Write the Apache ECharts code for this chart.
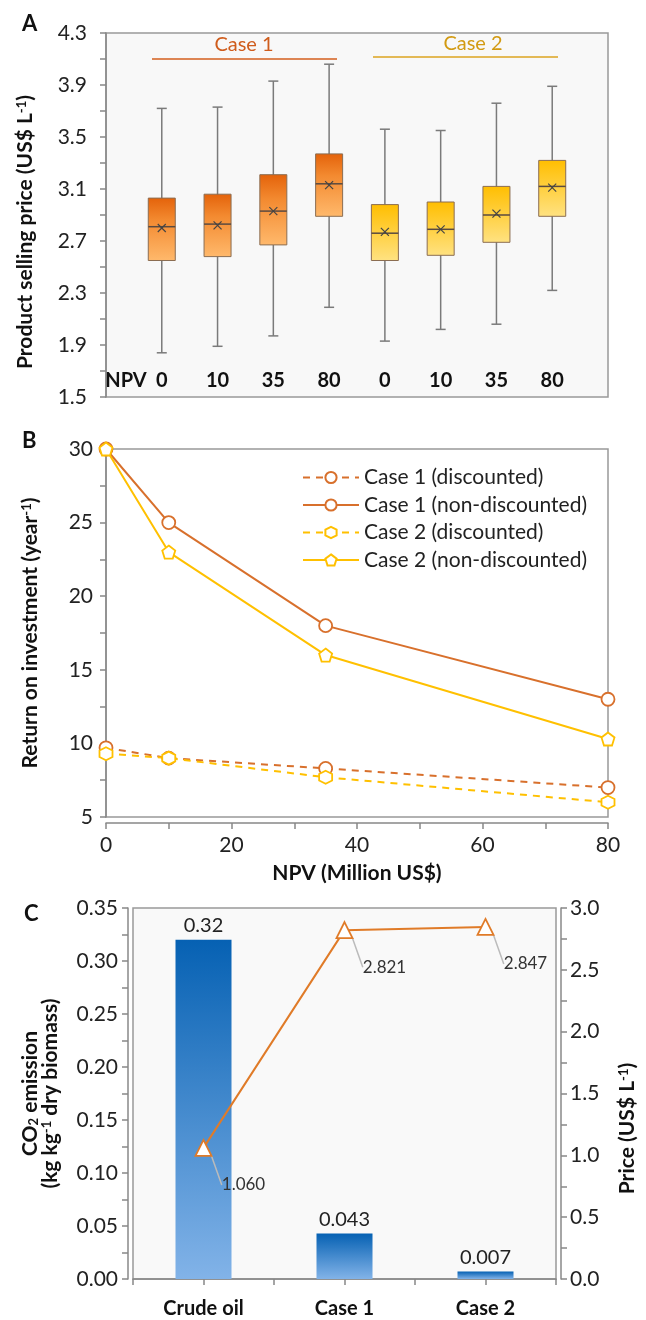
<!DOCTYPE html>
<html>
<head>
<meta charset="utf-8">
<script src="https://cdn.jsdelivr.net/npm/echarts@6/dist/echarts.min.js"></script>
<style>
  html, body { margin: 0; padding: 0; background: #fff; }
  #chart { width: 646px; height: 1320px; }
</style>
</head>
<body>
<div id="chart"></div>
<script>
// ---- A: product selling price box plots
var npvLabels = ['0', '10', '35', '80'];
var case1Min = [1.84, 1.89, 1.97, 2.19];
var case1Q1 = [2.55, 2.58, 2.67, 2.89];
var case1Median = [2.81, 2.83, 2.93, 3.14];
var case1Q3 = [3.03, 3.06, 3.21, 3.37];
var case1Max = [3.72, 3.73, 3.93, 4.06];
var case1Mean = [2.80, 2.82, 2.93, 3.13];

var case2Min = [1.93, 2.02, 2.06, 2.32];
var case2Q1 = [2.55, 2.59, 2.69, 2.89];
var case2Median = [2.76, 2.79, 2.90, 3.12];
var case2Q3 = [2.98, 3.00, 3.12, 3.32];
var case2Max = [3.56, 3.55, 3.76, 3.89];
var case2Mean = [2.77, 2.79, 2.91, 3.11];

// ---- B: return on investment
var npvValues = [0, 10, 35, 80];
var roiCase1Disc = [9.7, 9.0, 8.3, 7.0];
var roiCase1NonDisc = [30, 25, 18, 13];
var roiCase2Disc = [9.3, 9.0, 7.7, 6.0];
var roiCase2NonDisc = [30, 23, 16, 10.3];

// ---- C: CO2 emission and price
var co2Categories = ['Crude oil', 'Case 1', 'Case 2'];
var co2Emission = [0.32, 0.043, 0.007];
var fuelPrice = [1.060, 2.821, 2.847];

var FONT = 'Lato';
var orange = '#D8702C';
var gold = '#FFC000';
var axisGray = '#888';

function boxData(offset, mins, q1, med, q3, maxs, means) {
  return mins.map(function (v, i) {
    return [offset + i, v, q1[i], med[i], q3[i], maxs[i], means[i]];
  });
}

function pairs(ys) {
  return npvValues.map(function (x, i) { return [x, ys[i]]; });
}

var case1Stops = [
  { offset: 0, color: '#E4620A' },
  { offset: 0.35, color: '#F38A30' },
  { offset: 1, color: '#FFB96C' }
];
var case2Stops = [
  { offset: 0, color: '#FFBE00' },
  { offset: 1, color: '#FFE282' }
];

// box + whiskers + median + mean cross, placed with the axes' own scales
function renderBox(stops) {
  return function (params, api) {
    var x = api.value(0);
    var pMin = api.coord([x, api.value(1)]);
    var pQ1 = api.coord([x, api.value(2)]);
    var pMed = api.coord([x, api.value(3)]);
    var pQ3 = api.coord([x, api.value(4)]);
    var pMax = api.coord([x, api.value(5)]);
    var pMean = api.coord([x, api.value(6)]);
    var cx = pMed[0];
    var hw = 13.5, cap = 5, m = 4;
    var wStyle = { stroke: '#7a7a7a', lineWidth: 1.5 };
    return {
      type: 'group',
      children: [
        { type: 'line', shape: { x1: cx, y1: pMax[1], x2: cx, y2: pMin[1] }, style: wStyle },
        { type: 'line', shape: { x1: cx - cap, y1: pMax[1], x2: cx + cap, y2: pMax[1] }, style: wStyle },
        { type: 'line', shape: { x1: cx - cap, y1: pMin[1], x2: cx + cap, y2: pMin[1] }, style: wStyle },
        {
          type: 'rect',
          shape: { x: cx - hw, y: pQ3[1], width: hw * 2, height: pQ1[1] - pQ3[1] },
          style: {
            fill: new echarts.graphic.LinearGradient(0, 0, 0, 1, stops),
            stroke: '#8b6d52', lineWidth: 1
          }
        },
        { type: 'line', shape: { x1: cx - hw, y1: pMed[1], x2: cx + hw, y2: pMed[1] }, style: { stroke: '#5a4a40', lineWidth: 1.5 } },
        { type: 'line', shape: { x1: cx - m, y1: pMean[1] - m, x2: cx + m, y2: pMean[1] + m }, style: { stroke: '#444', lineWidth: 1.2 } },
        { type: 'line', shape: { x1: cx - m, y1: pMean[1] + m, x2: cx + m, y2: pMean[1] - m }, style: { stroke: '#444', lineWidth: 1.2 } }
      ]
    };
  };
}

var pentagon = 'path://M0,-10 L9.51,-3.09 L5.88,8.09 L-5.88,8.09 L-9.51,-3.09 Z';
var hexagon = 'path://M0,-10 L8.66,-5 L8.66,5 L0,10 L-8.66,5 L-8.66,-5 Z';

function roiSeries(name, data, color, dashed, symbol) {
  return {
    name: name,
    type: 'line',
    xAxisIndex: 1,
    yAxisIndex: 1,
    data: pairs(data),
    symbol: symbol,
    symbolSize: 13,
    lineStyle: { color: color, width: 2, type: dashed ? [7, 6] : 'solid' },
    itemStyle: { color: '#fff', borderColor: color, borderWidth: 1.8 },
    z: dashed ? 2 : 3
  };
}

var chart = echarts.init(document.getElementById('chart'), null, { renderer: 'canvas' });

var tickLabel = { fontSize: 21, color: '#222', fontFamily: FONT };
var axisTitle = { fontSize: 21, fontWeight: 'bold', color: '#111', fontFamily: FONT };
var supStyle = { fontSize: 13, fontWeight: 'bold', verticalAlign: 'top', color: '#111', fontFamily: FONT };
var subStyle = { fontSize: 13, fontWeight: 'bold', verticalAlign: 'bottom', color: '#111', fontFamily: FONT };

var option = {
  animation: false,
  textStyle: { fontFamily: FONT },
  grid: [
    { left: 106, top: 33, width: 502, height: 364, show: true, backgroundColor: '#f8f8f8', borderColor: '#999', borderWidth: 1.5 },
    { left: 106, top: 449, width: 502, height: 368, show: true, backgroundColor: '#fff', borderColor: '#999', borderWidth: 1.5 },
    { left: 133, top: 908, width: 430, height: 371, show: true, backgroundColor: '#f9f9f9', borderColor: '#999', borderWidth: 1.5 }
  ],
  legend: {
    data: ['Case 1 (discounted)', 'Case 1 (non-discounted)', 'Case 2 (discounted)', 'Case 2 (non-discounted)'],
    orient: 'vertical',
    left: 297,
    top: 462,
    itemWidth: 56,
    itemHeight: 14,
    itemGap: 6.5,
    textStyle: { fontSize: 21, color: '#222', fontFamily: FONT }
  },
  xAxis: [
    {
      gridIndex: 0, type: 'value', min: 0, max: 9, interval: 1,
      axisLine: { show: false }, axisTick: { show: false }, splitLine: { show: false },
      axisLabel: {
        inside: true, margin: 6, fontSize: 20, fontWeight: 'bold', color: '#111', fontFamily: FONT,
        formatter: function (v) {
          if (v === 0) return '{n|NPV}';
          return v < 9 ? npvLabels[(v - 1) % 4] : '';
        },
        rich: { n: { padding: [0, 0, 0, 40], fontSize: 20, fontWeight: 'bold', color: '#111', fontFamily: FONT } }
      }
    },
    {
      gridIndex: 1, type: 'value', min: 0, max: 80, interval: 20, offset: 6,
      name: 'NPV (Million US$)', nameLocation: 'middle', nameGap: 40, nameTextStyle: axisTitle,
      axisLine: { show: true, lineStyle: { color: axisGray, width: 1.5 } },
      axisTick: { show: true, length: 6, lineStyle: { color: axisGray, width: 1.5 } },
      minorTick: { show: true, splitNumber: 2, length: 6, lineStyle: { color: axisGray, width: 1.5 } },
      splitLine: { show: false },
      axisLabel: Object.assign({ margin: 12 }, tickLabel)
    },
    {
      gridIndex: 2, type: 'category', data: co2Categories, offset: 4,
      axisLine: { show: true, lineStyle: { color: axisGray, width: 1.5 } },
      axisTick: { show: true, length: 6, lineStyle: { color: axisGray, width: 1.5 } },
      axisLabel: { margin: 16, fontSize: 20, fontWeight: 'bold', color: '#111', fontFamily: FONT }
    },
    {
      gridIndex: 2, type: 'category', data: co2Categories, offset: 4, position: 'bottom',
      axisLine: { show: false },
      axisTick: { show: true, alignWithLabel: true, length: 6, lineStyle: { color: axisGray, width: 1.5 } },
      axisLabel: { show: false }
    }
  ],
  yAxis: [
    {
      gridIndex: 0, type: 'value', min: 1.5, max: 4.3, interval: 0.4, offset: 12,
      name: 'Product selling price (US$ L{sup|-1})', nameLocation: 'middle', nameGap: 58, nameRotate: 90,
      nameTextStyle: Object.assign({ padding: [0, 34, 0, 0], rich: { sup: supStyle } }, axisTitle),
      axisLine: { show: true, lineStyle: { color: axisGray, width: 1.5 } },
      axisTick: { show: true, length: 6, lineStyle: { color: axisGray, width: 1.5 } },
      minorTick: { show: true, splitNumber: 2, length: 6, lineStyle: { color: axisGray, width: 1.5 } },
      splitLine: { show: false },
      axisLabel: Object.assign({ margin: 7, formatter: function (v) { return v.toFixed(1); } }, tickLabel)
    },
    {
      gridIndex: 1, type: 'value', min: 5, max: 30, interval: 5, offset: 3,
      name: 'Return on investment (year{sup|-1})', nameLocation: 'middle', nameGap: 62, nameRotate: 90,
      nameTextStyle: Object.assign({ rich: { sup: supStyle } }, axisTitle),
      axisLine: { show: true, lineStyle: { color: axisGray, width: 1.5 } },
      axisTick: { show: true, length: 6, lineStyle: { color: axisGray, width: 1.5 } },
      minorTick: { show: true, splitNumber: 2, length: 6, lineStyle: { color: axisGray, width: 1.5 } },
      splitLine: { show: false },
      axisLabel: Object.assign({ margin: 10 }, tickLabel)
    },
    {
      gridIndex: 2, type: 'value', min: 0, max: 0.35, interval: 0.05, offset: 5,
      name: 'CO{sub|2} emission\n(kg kg{sup|-1} dry biomass)', nameLocation: 'middle', nameGap: 68, nameRotate: 90,
      nameTextStyle: Object.assign({ lineHeight: 20, rich: { sup: supStyle, sub: subStyle } }, axisTitle),
      axisLine: { show: true, lineStyle: { color: axisGray, width: 1.5 } },
      axisTick: { show: true, length: 6, lineStyle: { color: axisGray, width: 1.5 } },
      minorTick: { show: true, splitNumber: 2, length: 6, lineStyle: { color: axisGray, width: 1.5 } },
      splitLine: { show: false },
      axisLabel: Object.assign({ margin: 10, formatter: function (v) { return v.toFixed(2); } }, tickLabel)
    },
    {
      gridIndex: 2, type: 'value', position: 'right', min: 0, max: 3, interval: 0.5, offset: 5,
      name: 'Price (US$ L{sup|-1})', nameLocation: 'middle', nameGap: 56, nameRotate: 90,
      nameTextStyle: Object.assign({ padding: [0, 70, 0, 0], rich: { sup: supStyle } }, axisTitle),
      axisLine: { show: true, lineStyle: { color: axisGray, width: 1.5 } },
      axisTick: { show: true, length: 6, lineStyle: { color: axisGray, width: 1.5 } },
      minorTick: { show: true, splitNumber: 2, length: 6, lineStyle: { color: axisGray, width: 1.5 } },
      splitLine: { show: false },
      axisLabel: Object.assign({ margin: 9, formatter: function (v) { return v.toFixed(1); } }, tickLabel)
    }
  ],
  graphic: [
    { type: 'text', left: 22, top: 13, style: { text: 'A', fontSize: 22, fontWeight: 'bold', fill: '#111', fontFamily: FONT } },
    { type: 'text', left: 22, top: 430, style: { text: 'B', fontSize: 22, fontWeight: 'bold', fill: '#111', fontFamily: FONT } },
    { type: 'text', left: 24, top: 903, style: { text: 'C', fontSize: 22, fontWeight: 'bold', fill: '#111', fontFamily: FONT } },
    { type: 'line', shape: { x1: 152, y1: 59, x2: 337, y2: 59 }, style: { stroke: '#D45F1E', lineWidth: 1.5 } },
    { type: 'text', x: 244, y: 45, style: { text: 'Case 1', fontSize: 20, fill: '#CF5C1C', fontFamily: FONT, align: 'center', verticalAlign: 'middle' } },
    { type: 'line', shape: { x1: 373, y1: 57, x2: 558, y2: 57 }, style: { stroke: '#DDA521', lineWidth: 1.5 } },
    { type: 'text', x: 473, y: 44, style: { text: 'Case 2', fontSize: 20, fill: '#D29A12', fontFamily: FONT, align: 'center', verticalAlign: 'middle' } }
  ],
  series: [
    {
      name: 'Case 1 box', type: 'custom', xAxisIndex: 0, yAxisIndex: 0,
      renderItem: renderBox(case1Stops),
      data: boxData(1, case1Min, case1Q1, case1Median, case1Q3, case1Max, case1Mean)
    },
    {
      name: 'Case 2 box', type: 'custom', xAxisIndex: 0, yAxisIndex: 0,
      renderItem: renderBox(case2Stops),
      data: boxData(5, case2Min, case2Q1, case2Median, case2Q3, case2Max, case2Mean)
    },
    roiSeries('Case 1 (discounted)', roiCase1Disc, orange, true, 'circle'),
    roiSeries('Case 1 (non-discounted)', roiCase1NonDisc, orange, false, 'circle'),
    roiSeries('Case 2 (discounted)', roiCase2Disc, gold, true, hexagon),
    roiSeries('Case 2 (non-discounted)', roiCase2NonDisc, gold, false, pentagon),
    {
      name: 'CO2 emission', type: 'bar', xAxisIndex: 2, yAxisIndex: 2,
      data: co2Emission, barWidth: 56,
      itemStyle: {
        color: new echarts.graphic.LinearGradient(0, 0, 0, 1, [
          { offset: 0, color: '#0661B3' },
          { offset: 1, color: '#82B3E8' }
        ])
      },
      label: { show: true, position: 'top', distance: 4, fontSize: 20, color: '#222', fontFamily: FONT }
    },
    {
      name: 'Price', type: 'line', xAxisIndex: 2, yAxisIndex: 3,
      data: fuelPrice, symbol: 'triangle', symbolSize: 16,
      lineStyle: { color: '#E07B28', width: 2 },
      itemStyle: { color: '#fff', borderColor: '#E07B28', borderWidth: 1.8 },
      label: {
        show: true, position: 'inside', fontSize: 17, color: '#333', fontFamily: FONT,
        formatter: function (p) { return p.value.toFixed(3); }
      },
      labelLayout: { dx: 40, dy: 37 },
      labelLine: { show: true, lineStyle: { color: '#bbb', width: 1.5 } },
      z: 5
    }
  ]
};

chart.setOption(option);
</script>
</body>
</html>
